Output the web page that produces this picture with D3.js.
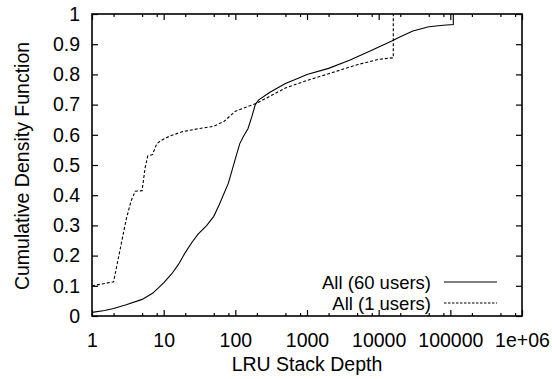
<!DOCTYPE html>
<html>
<head>
<meta charset="utf-8">
<script src="https://cdn.jsdelivr.net/npm/d3@7"></script>
<style>
  html, body { margin: 0; padding: 0; background: #fff; }
  svg { display: block; }
  text { font-family: "Liberation Sans", Arial, Helvetica, sans-serif; fill: #000; }
</style>
</head>
<body>
<svg id="chart" width="552" height="379"></svg>
<script>
// LRU stack depth (x) and cumulative fraction (y) for each trace
const depth60 = [1, 1.5, 2, 3, 5, 7, 10, 13, 16, 20, 25, 30, 40, 50, 60, 80, 100, 115, 130, 150, 170, 190, 210, 300, 500, 800, 1000, 2000, 4000, 8000, 15000, 20000, 30000, 50000, 80000, 110000, 110000];
const cdf60   = [0.012, 0.018, 0.025, 0.037, 0.055, 0.075, 0.11, 0.14, 0.17, 0.21, 0.245, 0.27, 0.30, 0.33, 0.37, 0.44, 0.52, 0.57, 0.595, 0.62, 0.66, 0.70, 0.715, 0.74, 0.77, 0.79, 0.80, 0.82, 0.848, 0.88, 0.91, 0.925, 0.944, 0.958, 0.963, 0.965, 1.0];

const depth1 = [1, 2, 3, 3.5, 4, 5, 5.5, 6, 7, 8, 9, 12, 18, 30, 50, 70, 100, 200, 500, 1000, 2000, 5000, 10000, 16000, 16000];
const cdf1   = [0.10, 0.113, 0.32, 0.38, 0.413, 0.415, 0.49, 0.53, 0.535, 0.57, 0.58, 0.595, 0.61, 0.62, 0.628, 0.645, 0.678, 0.705, 0.755, 0.78, 0.802, 0.832, 0.85, 0.855, 1.0];

const seriesNames = ["All (60 users)", "All (1 users)"];

const xMajorTicks = [1, 10, 100, 1000, 10000, 100000, 1000000];
const xTickLabels = ["1", "10", "100", "1000", "10000", "100000", "1e+06"];
const xMinorMult  = [2, 5, 8];
const yTicks = [0, 0.1, 0.2, 0.3, 0.4, 0.5, 0.6, 0.7, 0.8, 0.9, 1];

const xTitle = "LRU Stack Depth";
const yTitle = "Cumulative Density Function";

const L = 92, R = 522, T = 14, B = 316;
const svg = d3.select("#chart");

const x = d3.scaleLog().domain([1, 1e6]).range([L, R]);
const y = d3.scaleLinear().domain([0, 1]).range([B, T]);

const xMinor = [];
xMajorTicks.slice(0, -1).forEach(d => xMinorMult.forEach(m => xMinor.push(d * m)));

const fontSize = 19.5;
const legendFontSize = 18.5;

// bottom axis with labels
svg.append("g").attr("transform", `translate(0,${B})`)
  .call(d3.axisBottom(x).tickValues(xMajorTicks)
    .tickFormat((d, i) => xTickLabels[i])
    .tickSizeInner(-6).tickSizeOuter(0).tickPadding(17));
// bottom minor ticks
svg.append("g").attr("transform", `translate(0,${B})`)
  .call(d3.axisBottom(x).tickValues(xMinor).tickFormat("").tickSizeInner(-3).tickSizeOuter(0));
// top axis (mirrored ticks)
svg.append("g").attr("transform", `translate(0,${T})`)
  .call(d3.axisTop(x).tickValues(xMajorTicks).tickFormat("").tickSizeInner(-6).tickSizeOuter(0));
svg.append("g").attr("transform", `translate(0,${T})`)
  .call(d3.axisTop(x).tickValues(xMinor).tickFormat("").tickSizeInner(-3).tickSizeOuter(0));
// left axis with labels
svg.append("g").attr("transform", `translate(${L},0)`)
  .call(d3.axisLeft(y).tickValues(yTicks).tickFormat(d => d === 0 ? "0" : d === 1 ? "1" : d3.format(".1f")(d))
    .tickSizeInner(-6).tickSizeOuter(0).tickPadding(12));
// right axis (mirrored ticks)
svg.append("g").attr("transform", `translate(${R},0)`)
  .call(d3.axisRight(y).tickValues(yTicks).tickFormat("").tickSizeInner(-6).tickSizeOuter(0));

svg.selectAll(".domain").remove();
svg.selectAll(".tick line").attr("stroke", "#000").attr("stroke-width", 1.2);
svg.selectAll(".tick text").attr("font-size", fontSize)
  .attr("font-family", "'Liberation Sans', Arial, sans-serif");

// frame
svg.append("rect").attr("x", L).attr("y", T).attr("width", R - L).attr("height", B - T)
  .attr("fill", "none").attr("stroke", "#000").attr("stroke-width", 1.6);

// curves
const line = d3.line().x(d => x(d[0])).y(d => y(d[1]));
const data60 = depth60.map((d, i) => [d, cdf60[i]]);
const data1 = depth1.map((d, i) => [d, cdf1[i]]);

svg.append("path").datum(data60).attr("d", line)
  .attr("fill", "none").attr("stroke", "#000").attr("stroke-width", 1.1);
svg.append("path").datum(data1).attr("d", line)
  .attr("fill", "none").attr("stroke", "#000").attr("stroke-width", 1.1)
  .attr("stroke-dasharray", "3,2");

// legend
const legend = svg.append("g");
const legRows = [{ name: seriesNames[0], dash: null, yy: 282 }, { name: seriesNames[1], dash: "2.5,1.5", yy: 303 }];
legRows.forEach(r => {
  legend.append("text").attr("x", 431).attr("y", r.yy).attr("dy", "0.36em")
    .attr("text-anchor", "end").attr("font-size", legendFontSize).text(r.name);
  legend.append("line").attr("x1", 444).attr("x2", 497).attr("y1", r.yy).attr("y2", r.yy)
    .attr("stroke", "#000").attr("stroke-width", 1.1)
    .attr("stroke-dasharray", r.dash);
});

// axis titles
svg.append("text").attr("x", 307).attr("y", 371)
  .attr("text-anchor", "middle").attr("font-size", fontSize).text(xTitle);
svg.append("text").attr("transform", `translate(29,166) rotate(-90)`)
  .attr("text-anchor", "middle").attr("font-size", fontSize).text(yTitle);
</script>
</body>
</html>
